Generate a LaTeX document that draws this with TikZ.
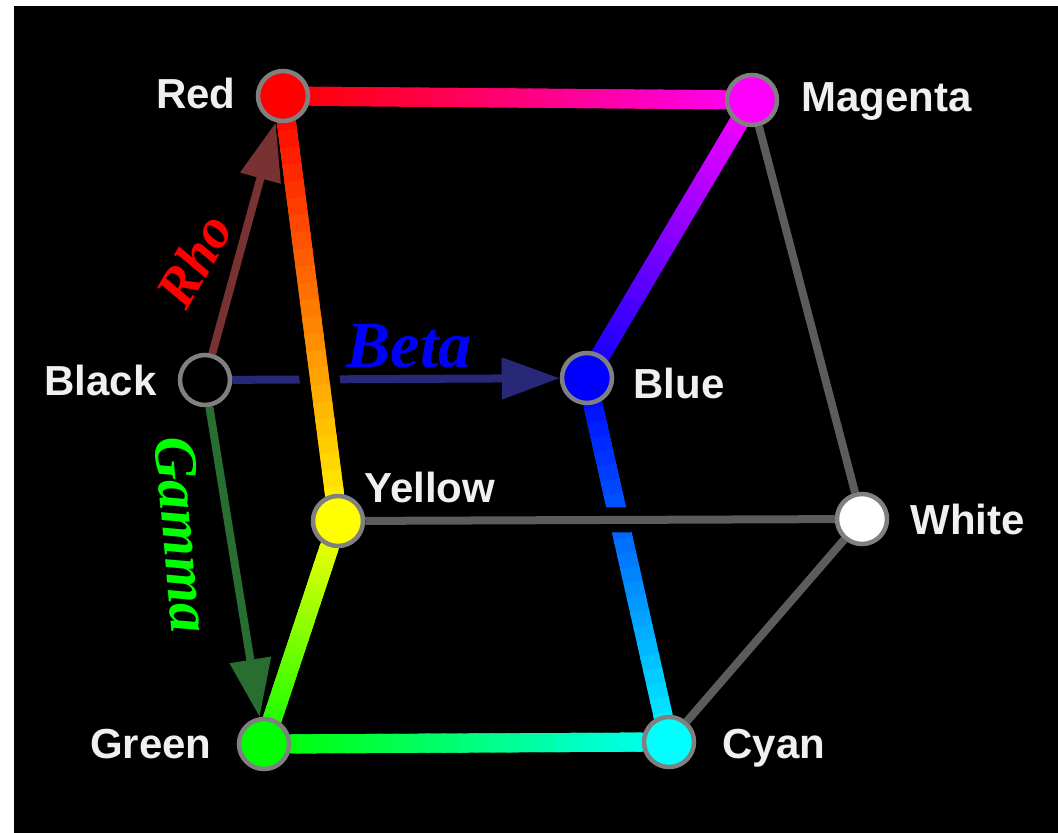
\documentclass[tikz,border=0pt]{standalone}
\usepackage{fontspec}
\setmainfont{Liberation Sans}
\newfontfamily\scriptface{Liberation Serif}
\usepackage{xcolor}
\usetikzlibrary{positioning,arrows.meta,calc}
\definecolor{ringgray}{RGB}{128,128,128}
\definecolor{edgegray}{RGB}{92,92,92}
\definecolor{rhodim}{RGB}{120,50,50}
\definecolor{betadim}{RGB}{40,40,120}
\definecolor{gammadim}{RGB}{40,110,48}
\definecolor{labelwhite}{RGB}{240,240,240}
\definecolor{purered}{RGB}{255,0,0}
\definecolor{puregreen}{RGB}{0,255,0}
\definecolor{pureblue}{RGB}{0,0,255}
\definecolor{puremag}{RGB}{255,0,255}
\definecolor{purecyan}{RGB}{0,255,255}
\definecolor{pureyel}{RGB}{255,255,0}
\pgfdeclarelayer{backdrop}
\pgfdeclarelayer{edges}
\pgfsetlayers{backdrop,edges,main}
\tikzset{
  vertex/.style={circle,draw=ringgray,line width=4.5pt,inner sep=0pt,minimum size=50pt},
  vname/.style={font=\fontsize{42}{42}\selectfont\bfseries,text=labelwhite,inner sep=0pt},
  grayedge/.style={edgegray,line width=8pt},
  axisarrow/.style={line width=8pt,-{Triangle[length=58pt,width=40pt]}},
}
\newcommand{\axisfont}[1]{\fontsize{#1}{#1}\selectfont\scriptface\bfseries\itshape}
% colour ramp from node to node
\newcommand{\ramp}[4]{%
  \draw[line width=19pt,#3!50!#4] (#1) -- (#2);
  \foreach \i [evaluate=\i as \j using int(\i+5)] in {0,4,...,96}
    \draw[line width=19pt,#4!\i!#3] ($(#1)!\i/100!(#2)$) -- ($(#1)!\j/100!(#2)$);
}
\begin{document}
\begin{tikzpicture}[x=1pt,y=-1pt]
  \useasboundingbox (0,0) rectangle (1058,833);
  \begin{pgfonlayer}{backdrop}
    \fill[white] (0,0) rectangle (1058,833);
    \fill[black] (14,6) rectangle (1058,833);
  \end{pgfonlayer}

  \node[vertex,fill=purered] (red) at (283,96) {};
  \node[vertex,fill=puremag] (mag) at (752,100) {};
  \node[vertex,fill=black] (blk) at (205,380) {};
  \node[vertex,fill=pureblue] (blu) at (587,378) {};
  \node[vertex,fill=pureyel] (yel) at (338,521) {};
  \node[vertex,fill=white] (whi) at (862,519) {};
  \node[vertex,fill=puregreen] (grn) at (264,744) {};
  \node[vertex,fill=purecyan] (cya) at (669,742) {};

  \node[vname,left=20pt of red,yshift=3pt] (redname) {Red};
  \node[vname,right=22pt of mag,yshift=-1pt] (magname) {Magenta};
  \node[vname,left=21pt of blk] (blkname) {Black};
  \node[vname,right=19pt of blu,yshift=-5pt] (bluname) {Blue};
  \node[vname,above right=2pt and 2pt of yel.north east,xshift=5pt,yshift=-3pt] (yelname) {Yellow};
  \node[vname,right=21pt of whi] (whiname) {White};
  \node[vname,left=25pt of grn] (grnname) {Green};
  \node[vname,right=26pt of cya,yshift=-6pt] (cyaname) {Cyan};

  \node[text=purered,font=\axisfont{56},inner sep=0pt,rotate=60] (rhoname) at (194,260) {Rho};
  \node[text=pureblue,font=\axisfont{66},inner sep=0pt] (betaname) at (409,346) {Beta};
  \node[text=puregreen,font=\axisfont{60},inner sep=0pt,rotate=-85] (gammaname) at (183,535) {Gamma};

  \begin{pgfonlayer}{edges}
    \draw[grayedge] (mag) -- (whi);
    \draw[grayedge] (cya) -- (whi);
    \ramp{blu}{cya}{pureblue}{purecyan}
    \draw[black,line width=25pt] ($(yel)!0.5!(whi)$) -- ($(yel)!0.56!(whi)$);
    \draw[grayedge] (yel) -- (whi);
    \draw[axisarrow,rhodim] (blk) -- (red);
    \draw[axisarrow,gammadim] (blk) -- (grn);
    \draw[axisarrow,betadim] (blk) -- (blu);
    \draw[black,line width=40pt] ($(red)!0.62!(yel)$) -- ($(red)!0.72!(yel)$);
    \ramp{red}{mag}{purered}{puremag}
    \ramp{red}{yel}{purered}{pureyel}
    \ramp{mag}{blu}{puremag}{pureblue}
    \ramp{yel}{grn}{pureyel}{puregreen}
    \ramp{grn}{cya}{puregreen}{purecyan}
  \end{pgfonlayer}
\end{tikzpicture}
\end{document}
